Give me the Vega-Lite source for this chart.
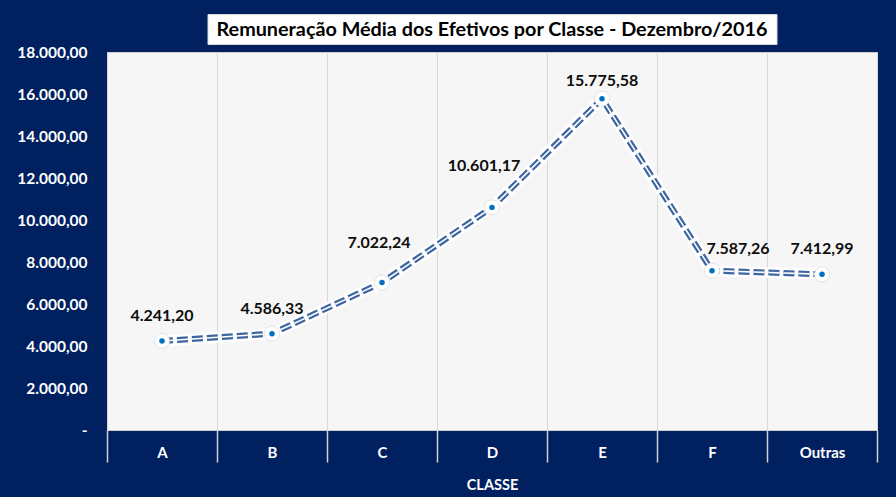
{
  "$schema": "https://vega.github.io/schema/vega-lite/v6.json",
  "background": "#002060",
  "padding": {"left": 16, "top": 13, "right": 19, "bottom": 4},
  "config": {
    "locale": {"number": {"decimal": ",", "thousands": ".", "grouping": [3], "currency": ["R$", ""]}},
    "font": "Lato",
    "concat": {"spacing": 8}
  },
  "datasets": {
    "d": [
      {"classe": "A", "valor": 4241.20},
      {"classe": "B", "valor": 4586.33},
      {"classe": "C", "valor": 7022.24},
      {"classe": "D", "valor": 10601.17},
      {"classe": "E", "valor": 15775.58},
      {"classe": "F", "valor": 7587.26},
      {"classe": "Outras", "valor": 7412.99}
    ]
  },
  "center": true,
  "bounds": "flush",
  "vconcat": [
    {
      "width": 569,
      "height": 30,
      "data": {"values": [{"t": "Remuneração Média dos Efetivos por Classe - Dezembro/2016"}]},
      "view": {"fill": "white", "stroke": "#d9d9d9"},
      "mark": {"type": "text", "font": "Lato", "fontWeight": "bold", "fontSize": 19.8, "color": "#000000", "dy": 1},
      "encoding": {"text": {"field": "t", "type": "nominal"}}
    },
    {
      "width": 770,
      "height": 378,
      "data": {"name": "d"},
      "view": {"fill": "#f6f6f6", "stroke": "#cccccc"},
      "encoding": {
        "x": {
          "field": "classe", "type": "nominal", "sort": null,
          "scale": {"type": "band", "paddingInner": 0, "paddingOuter": 0},
          "axis": {
            "tickBand": "extent", "ticks": true, "tickSize": 32, "tickColor": "#d0d0d0", "tickWidth": 1.5,
            "grid": true, "gridColor": "#d9d9d9", "gridWidth": 1,
            "domain": false, "labelAngle": 0,
            "labelColor": "white", "labelFont": "Lato", "labelFontWeight": "bold", "labelFontSize": 15, "labelPadding": -17,
            "title": "CLASSE", "titleColor": "white", "titleFont": "Lato", "titleFontWeight": "bold", "titleFontSize": 14.5, "titlePadding": 16
          }
        },
        "y": {
          "field": "valor", "type": "quantitative",
          "scale": {"domain": [0, 18000], "nice": false, "zero": true},
          "axis": {
            "values": [0, 2000, 4000, 6000, 8000, 10000, 12000, 14000, 16000, 18000],
            "format": ",.2f",
            "labelExpr": "datum.value == 0 ? '-' : datum.label",
            "labelColor": "white", "labelFont": "Lato", "labelFontWeight": "bold", "labelFontSize": 15.5, "labelPadding": 20,
            "ticks": false, "domain": false, "grid": false, "title": null
          }
        }
      },
      "layer": [
        {"mark": {"type": "line", "color": "white", "strokeWidth": 11, "opacity": 0.85}},
        {"mark": {"type": "line", "color": "#3d65a1", "strokeWidth": 6, "strokeDash": [11, 4]}},
        {"mark": {"type": "line", "color": "white", "strokeWidth": 1.6, "strokeDash": [11, 4]}},
        {"mark": {"type": "point", "shape": "circle", "filled": true, "color": "white", "size": 230, "opacity": 1, "stroke": "#d0d0d0", "strokeWidth": 0.6}},
        {"mark": {"type": "point", "shape": "circle", "filled": true, "color": "#0070c0", "size": 30, "opacity": 1}},
        {
          "transform": [{"filter": "datum.classe == 'A' || datum.classe == 'B' || datum.classe == 'Outras'"}],
          "mark": {"type": "text", "dy": -25, "font": "Lato", "fontWeight": "bold", "fontSize": 16, "color": "#0d0d0d"},
          "encoding": {"text": {"field": "valor", "type": "quantitative", "format": ",.2f"}}
        },
        {
          "transform": [{"filter": "datum.classe == 'E'"}],
          "mark": {"type": "text", "dy": -18, "font": "Lato", "fontWeight": "bold", "fontSize": 16, "color": "#0d0d0d"},
          "encoding": {"text": {"field": "valor", "type": "quantitative", "format": ",.2f"}}
        },
        {
          "transform": [{"filter": "datum.classe == 'F'"}],
          "mark": {"type": "text", "dy": -22, "dx": 26, "font": "Lato", "fontWeight": "bold", "fontSize": 16, "color": "#0d0d0d"},
          "encoding": {"text": {"field": "valor", "type": "quantitative", "format": ",.2f"}}
        },
        {
          "transform": [{"filter": "datum.classe == 'C'"}],
          "mark": {"type": "text", "dy": -40, "dx": -3, "font": "Lato", "fontWeight": "bold", "fontSize": 16, "color": "#0d0d0d"},
          "encoding": {"text": {"field": "valor", "type": "quantitative", "format": ",.2f"}}
        },
        {
          "transform": [{"filter": "datum.classe == 'D'"}],
          "mark": {"type": "text", "dy": -41, "dx": -8, "font": "Lato", "fontWeight": "bold", "fontSize": 16, "color": "#0d0d0d"},
          "encoding": {"text": {"field": "valor", "type": "quantitative", "format": ",.2f"}}
        }
      ]
    }
  ]
}
